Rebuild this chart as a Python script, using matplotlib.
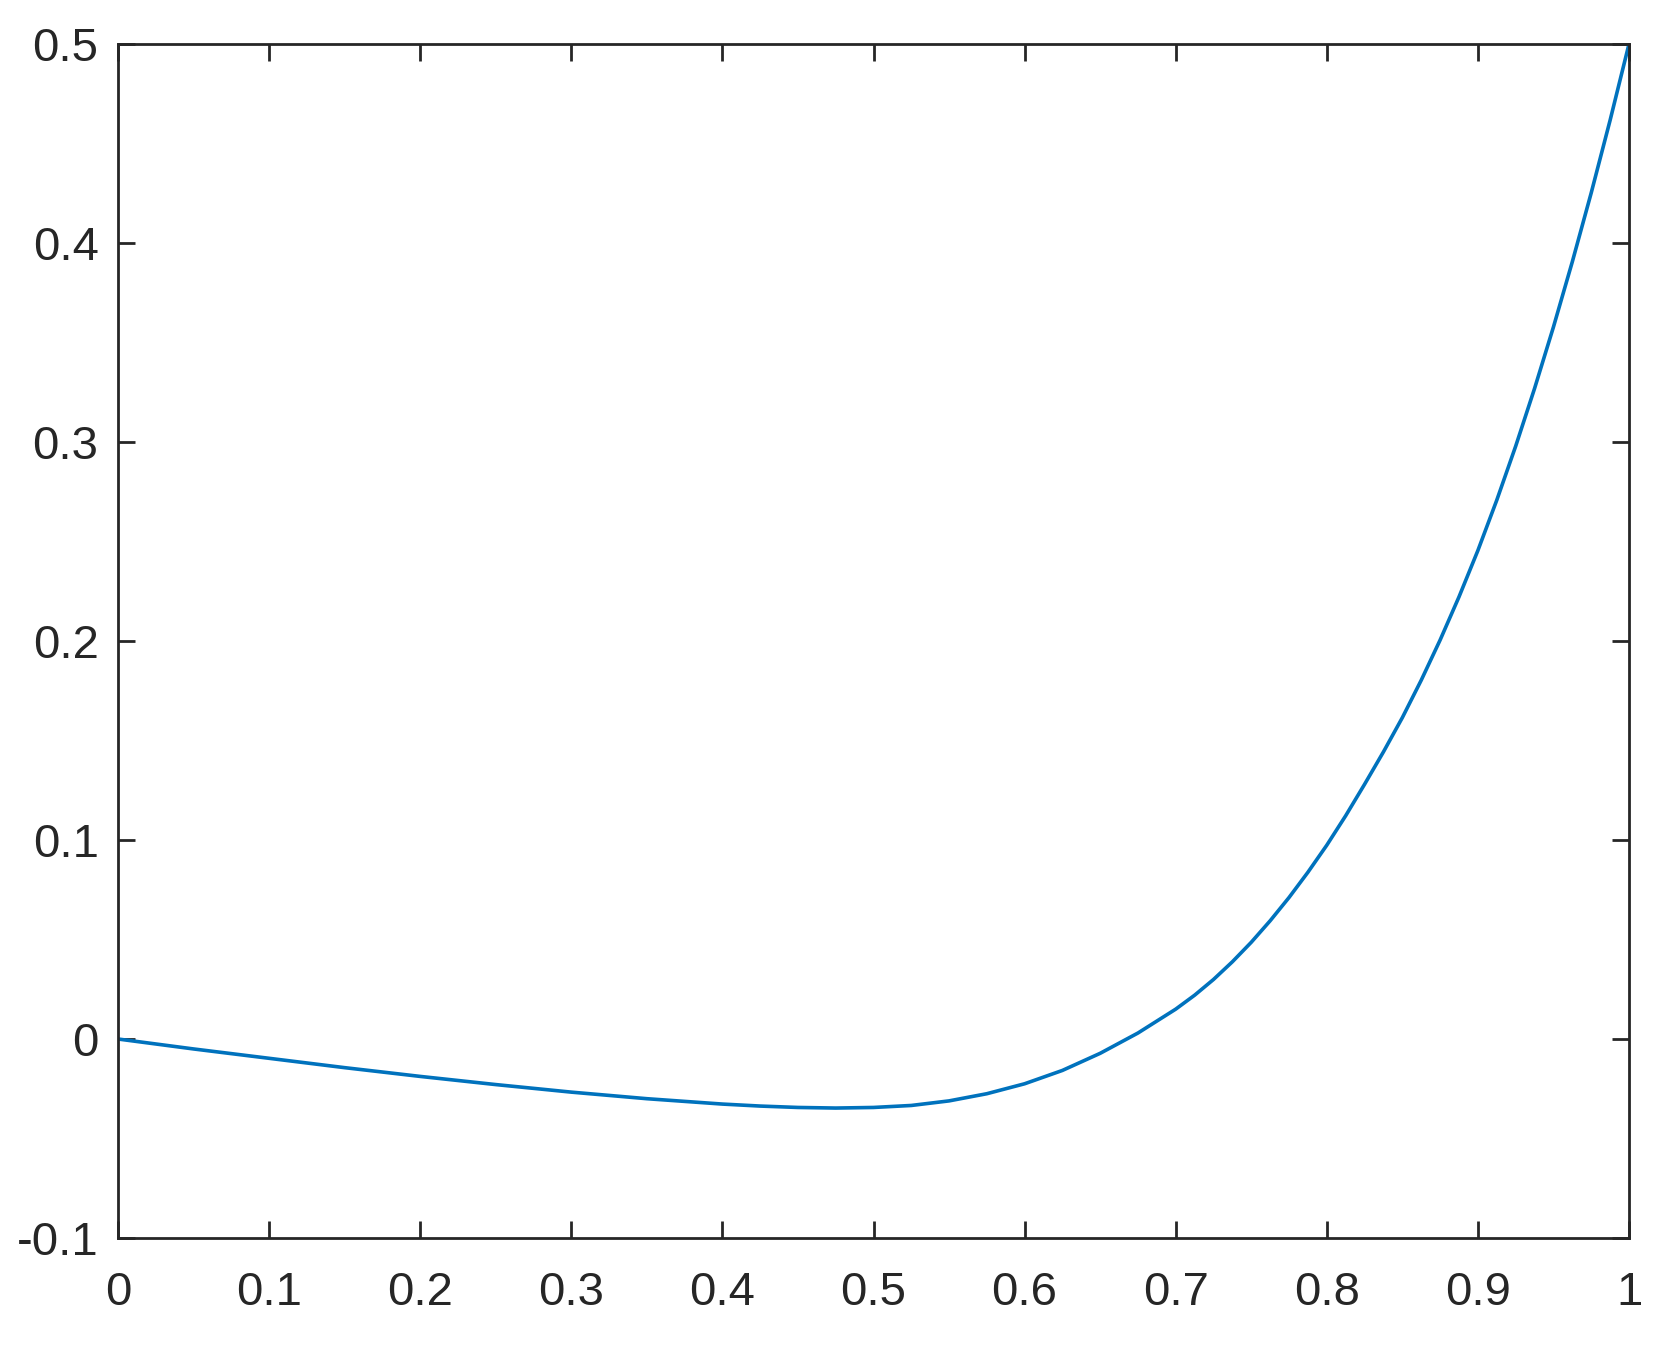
import matplotlib
matplotlib.use('Agg')
import matplotlib.pyplot as plt
import numpy as np
from matplotlib.ticker import FuncFormatter

# values
x_lo = [0.0, 0.05, 0.10, 0.15, 0.20, 0.25, 0.30, 0.35, 0.40]
y_lo = [0.0, -0.0050, -0.0097, -0.0144, -0.0188, -0.0229, -0.0267, -0.0300, -0.0327]
x_mid = [0.425, 0.450, 0.475, 0.500, 0.525, 0.550, 0.575, 0.600, 0.625, 0.650,
         0.675, 0.700, 0.7125, 0.725, 0.7375, 0.750, 0.7625, 0.775, 0.7875]
y_mid = [-0.0337, -0.0344, -0.0347, -0.0344, -0.0334, -0.0311, -0.0275, -0.0225,
         -0.0158, -0.0072, 0.0030, 0.0150, 0.0220, 0.0299, 0.0388, 0.0486,
         0.0594, 0.0711, 0.0838]
x_hi = [0.8000, 0.8125, 0.8250, 0.8375, 0.8500, 0.8625, 0.8750, 0.8875,
        0.9000, 0.9125, 0.9250, 0.9375, 0.9500, 0.9625, 0.9750, 0.9875, 1.0000]
y_hi = [0.0974, 0.1122, 0.1280, 0.1443, 0.1615, 0.1803, 0.2005, 0.2222,
        0.2455, 0.2708, 0.2979, 0.3269, 0.3578, 0.3906, 0.4252, 0.4617, 0.5000]

x = x_lo + x_mid + x_hi
y = y_lo + y_mid + y_hi

xticks = [0, 0.1, 0.2, 0.3, 0.4, 0.5, 0.6, 0.7, 0.8, 0.9, 1]
yticks = [-0.1, 0, 0.1, 0.2, 0.3, 0.4, 0.5]

plt.rcParams['font.family'] = ['Liberation Sans', 'DejaVu Sans']
plt.rcParams['axes.unicode_minus'] = False

fig = plt.figure(figsize=(8.4, 6.765), dpi=200)
ax = fig.add_axes([118/1680, 1-1238/1353, (1629-118)/1680, (1238-44)/1353])

ax.plot(x, y, color='#0072BD', linewidth=1.3, solid_joinstyle='round')

ax.set_xlim(0, 1)
ax.set_ylim(-0.1, 0.5)
ax.set_xticks(xticks)
ax.set_yticks(yticks)
fmt = FuncFormatter(lambda v, p: '%g' % round(v, 3))
ax.xaxis.set_major_formatter(fmt)
ax.yaxis.set_major_formatter(fmt)

for s in ax.spines.values():
    s.set_color('#262626')
    s.set_linewidth(1.0)
ax.tick_params(direction='in', length=6, width=1.0, color='#262626',
               labelcolor='#262626', labelsize=17,
               top=True, right=True)
ax.tick_params(axis='x', pad=12)
ax.tick_params(axis='y', pad=7)

fig.savefig('out.png', dpi=200)
